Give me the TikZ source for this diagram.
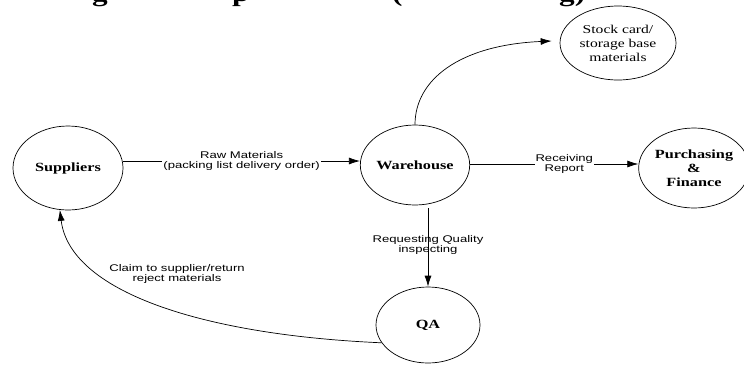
\documentclass[tikz,border=0pt]{standalone}
\usepackage{fontspec}
\setmainfont{Liberation Serif}
\newfontfamily\lblfont[FakeStretch=1.35]{Liberation Sans}
\newfontfamily\procfont[FakeStretch=1.3]{Liberation Serif}
\usetikzlibrary{arrows.meta,shapes.geometric}

\tikzset{
  proc/.style={ellipse, draw, line width=0.7pt, inner sep=0pt, align=center,
    font=\procfont\bfseries\fontsize{12.5}{14}\selectfont},
  store/.style={ellipse, draw, line width=0.7pt, inner sep=0pt, align=center,
    font=\procfont\fontsize{12}{14}\selectfont},
  flow/.style={-{Latex[length=11pt,width=7pt]}, line width=0.7pt},
  lbl/.style={font=\lblfont\fontsize{9.7}{10}\selectfont, align=center, inner sep=1pt},
  heading/.style={font=\procfont\bfseries\fontsize{24}{28}\selectfont, inner sep=0pt, anchor=base west}
}

\begin{document}
\begin{tikzpicture}[x=1pt, y=-1pt]
  \useasboundingbox (0,0) rectangle (744,365);

  % heading, only its lower edge lies inside the page
  \begin{scope}
    \clip (0,0) rectangle (744,30);
    \node[heading] (t1) at (92,1) {g};
    \node[heading] (t2) at (232,1) {p};
    \node[heading] (t3) at (392,1) {(};
    \node[heading] (t4) at (559,1) {g)};
  \end{scope}

  % processes and stores
  \node[proc, minimum width=110pt, minimum height=84pt] (sup) at (68,168) {Suppliers};
  \node[proc, minimum width=94pt, minimum height=80pt] (wh) at (415,165) {Warehouse};
  \node[proc, minimum width=98pt, minimum height=80pt] (pf) at (694,168) {Purchasing\\\&\\Finance};
  \node[store, minimum width=116pt, minimum height=74pt] (sc) at (618,43) {Stock card/\\storage base\\materials};
  \node[proc, minimum width=104pt, minimum height=76pt] (qa) at (428,325) {QA};

  % flows
  \draw[flow] ([yshift=7pt]sup.east) -- ([yshift=4pt]wh.west)
    node[lbl, midway, fill=white] (rawlbl) {Raw Materials\\(packing list delivery order)};
  \draw[flow] ([yshift=1pt]wh.east) -- ([yshift=4pt]pf.west)
    node[lbl, pos=0.56, fill=white] (rcvlbl) {Receiving\\Report};
  \draw[flow] (wh.north) .. controls +(0,-45) and +(-92,4) .. ([xshift=-8pt,yshift=2pt]sc.west);
  \draw[flow] ([xshift=13pt,yshift=-3pt]wh.south) -- (qa.north)
    node[lbl, pos=0.47] (reqlbl) {Requesting Quality\\inspecting};
  \draw[flow] (qa.201) .. controls +(-182,-8) and +(10,81) .. (sup.259);
  \node[lbl] (claimlbl) at (177,274) {Claim to supplier/return\\reject materials};
\end{tikzpicture}
\end{document}
